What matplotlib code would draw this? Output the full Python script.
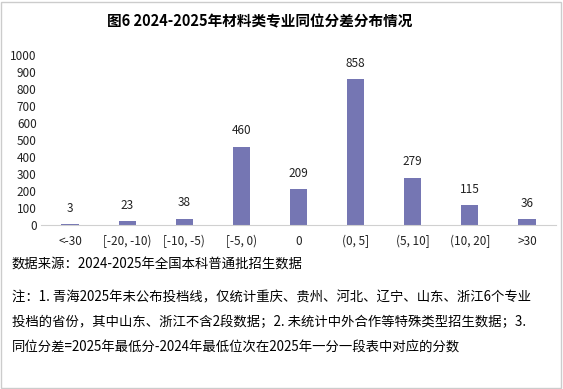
import matplotlib.pyplot as plt
from matplotlib.patches import Rectangle

plt.rcParams['font.family'] = ['Noto Sans CJK SC', 'DejaVu Sans']

categories = ['<-30', '[-20, -10)', '[-10, -5)', '[-5, 0)', '0', '(0, 5]', '(5, 10]', '(10, 20]', '>30']
counts = [3, 23, 38, 460, 209, 858, 279, 115, 36]
yticks = [0, 100, 200, 300, 400, 500, 600, 700, 800, 900, 1000]

title = '图6 2024-2025年材料类专业同位分差分布情况'
notes = [
    '数据来源：2024-2025年全国本科普通批招生数据',
    '注：1. 青海2025年未公布投档线，仅统计重庆、贵州、河北、辽宁、山东、浙江6个专业',
    '投档的省份，其中山东、浙江不含2段数据；2. 未统计中外合作等特殊类型招生数据；3.',
    '同位分差=2025年最低分-2024年最低位次在2025年一分一段表中对应的分数',
]

bar_color = '#7576B3'

fig = plt.figure(figsize=(5.63, 3.89), dpi=100)
ax = fig.add_axes([0.0737, 0.4216, 0.913, 0.437])

x = range(len(categories))
ax.bar(x, counts, width=0.3, color=bar_color)
for xi, v in zip(x, counts):
    ax.text(xi, v + 55, str(v), ha='center', va='bottom', fontsize=8.5, color='#222222')

ax.set_xlim(-0.5, len(categories) - 0.5)
ax.set_ylim(0, 1000)
ax.set_yticks(yticks)
ax.set_xticks(list(x))
ax.set_xticklabels(categories)
ax.tick_params(axis='both', length=0, labelsize=8.5, colors='#222222')
ax.tick_params(axis='x', pad=7)
for s in ['top', 'right', 'left']:
    ax.spines[s].set_visible(False)
ax.spines['bottom'].set_color('#d0d0d0')

fig.text(0.462, 0.945, title, ha='center', va='center', fontsize=10.5, fontweight='bold')
ys = [265, 297, 322, 348]
for t, yp in zip(notes, ys):
    fig.text(0.021, 1 - yp / 389, t, ha='left', va='center', fontsize=9.6, style='italic')

fig.patches.append(Rectangle((0.002, 0.003), 0.995, 0.993, transform=fig.transFigure,
                             fill=False, edgecolor='#cccccc', linewidth=1))

fig.savefig('out.png', dpi=100)
